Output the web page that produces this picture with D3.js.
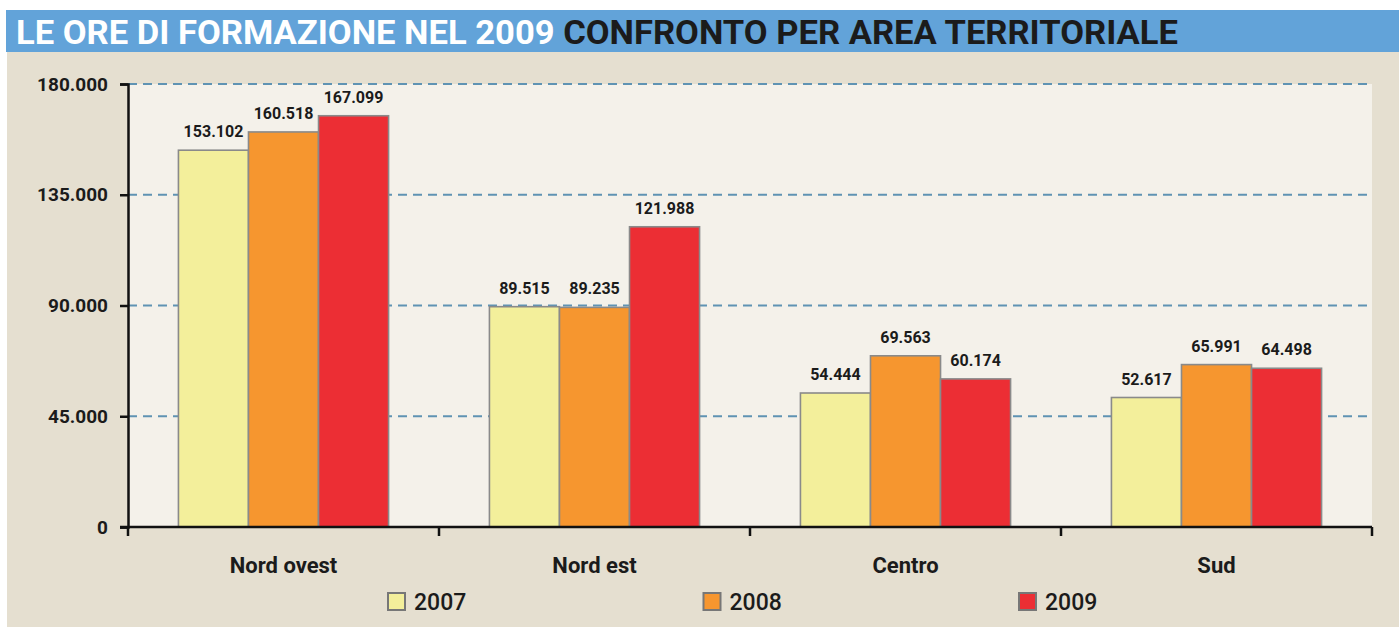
<!DOCTYPE html>
<html>
<head>
<meta charset="utf-8">
<script src="https://cdn.jsdelivr.net/npm/d3@7"></script>
<style>
  body { margin: 0; background: #fff; }
  svg { display: block; font-family: Roboto, "DejaVu Sans", sans-serif; }
</style>
</head>
<body>
<div id="chart"></div>
<script>
// dati
const aree = ["Nord ovest", "Nord est", "Centro", "Sud"];
const anni = ["2007", "2008", "2009"];
const ore2007 = [153102, 89515, 54444, 52617];
const ore2008 = [160518, 89235, 69563, 65991];
const ore2009 = [167099, 121988, 60174, 64498];
const tickValori = [0, 45000, 90000, 135000, 180000];
const colori = ["#f3ef9b", "#f6962f", "#ec2e34"];

const W = 1399, H = 627;
const margin = { top: 84, right: 27, bottom: 100, left: 128 };

const fmt = d3.formatLocale({ decimal: ",", thousands: ".", grouping: [3], currency: ["€", ""] }).format(",d");

const serie = [ore2007, ore2008, ore2009];
const rows = aree.map((a, i) => ({ area: a, valori: anni.map((y, j) => ({ anno: y, v: serie[j][i] })) }));

const svg = d3.select("#chart").append("svg")
  .attr("width", W)
  .attr("height", H);

// sfondo pannello e barra titolo
svg.append("rect").attr("x", 7).attr("y", 52).attr("width", W - 7).attr("height", H - 52).attr("fill", "#e5dfd0");
svg.append("rect").attr("x", 6).attr("y", 10).attr("width", W - 6).attr("height", 42).attr("fill", "#62a3d9");

const title = svg.append("text")
  .attr("x", 16)
  .attr("y", 44)
  .attr("font-size", 33)
  .attr("font-weight", "bold");
title.append("tspan").attr("fill", "#fff").text("LE ORE DI FORMAZIONE NEL 2009 ");
title.append("tspan").attr("fill", "#1b1b1b").text("CONFRONTO PER AREA TERRITORIALE");
title.attr("textLength", 1162).attr("lengthAdjust", "spacingAndGlyphs");

const x0 = d3.scaleBand().domain(aree).range([margin.left, W - margin.right]).paddingInner(0).paddingOuter(0);
const x1 = d3.scaleBand().domain(anni).range([0, x0.bandwidth()]).paddingInner(0).paddingOuter(0.72);
const y = d3.scaleLinear().domain([0, 180000]).range([H - margin.bottom, margin.top]);

// area del grafico
svg.append("rect")
  .attr("x", margin.left)
  .attr("y", margin.top)
  .attr("width", W - margin.right - margin.left)
  .attr("height", y(0) - margin.top)
  .attr("fill", "#f4f1ea");

// griglia tratteggiata
svg.append("g")
  .selectAll("line")
  .data(tickValori.filter(d => d > 0))
  .join("line")
  .attr("x1", margin.left)
  .attr("x2", W - margin.right)
  .attr("y1", d => y(d))
  .attr("y2", d => y(d))
  .attr("stroke", "#5f93b3")
  .attr("stroke-width", 2)
  .attr("stroke-dasharray", "9,6");

// barre
const gruppi = svg.append("g")
  .selectAll("g")
  .data(rows)
  .join("g")
  .attr("transform", d => `translate(${x0(d.area)},0)`);

gruppi.selectAll("rect")
  .data(d => d.valori)
  .join("rect")
  .attr("x", d => x1(d.anno))
  .attr("y", d => y(d.v))
  .attr("width", x1.bandwidth())
  .attr("height", d => y(0) - y(d.v))
  .attr("fill", (d, i) => colori[i])
  .attr("stroke", "#8a8a8a")
  .attr("stroke-width", 1.6);

gruppi.selectAll("text")
  .data(d => d.valori)
  .join("text")
  .attr("x", d => x1(d.anno) + x1.bandwidth() / 2)
  .attr("y", d => y(d.v) - 13)
  .attr("text-anchor", "middle")
  .attr("font-size", 16)
  .attr("font-weight", "bold")
  .attr("fill", "#1b1b1b")
  .text(d => fmt(d.v));

// asse y
const yAxis = svg.append("g")
  .attr("transform", `translate(${margin.left},0)`)
  .call(d3.axisLeft(y).tickValues(tickValori).tickSize(8).tickPadding(12).tickFormat(d => fmt(d)));
yAxis.select(".domain").attr("stroke", "#111").attr("stroke-width", 2.5);
yAxis.selectAll(".tick line").attr("stroke", "#111").attr("stroke-width", 2.5);
yAxis.selectAll(".tick text")
  .attr("font-size", 19)
  .attr("font-weight", "bold")
  .attr("fill", "#1b1b1b")
  .attr("font-family", "Roboto, sans-serif");

// asse x
const xAxis = svg.append("g")
  .attr("transform", `translate(0,${y(0)})`);
xAxis.append("line")
  .attr("x1", margin.left - 8)
  .attr("x2", W - margin.right)
  .attr("stroke", "#111")
  .attr("stroke-width", 2.5);
xAxis.selectAll(".sep")
  .data(aree.map(a => x0(a)).concat([x0.range()[1]]))
  .join("line")
  .attr("class", "sep")
  .attr("x1", d => d)
  .attr("x2", d => d)
  .attr("y1", 0)
  .attr("y2", 9)
  .attr("stroke", "#111")
  .attr("stroke-width", 2.5);
xAxis.selectAll(".lab")
  .data(aree)
  .join("text")
  .attr("class", "lab")
  .attr("x", d => x0(d) + x0.bandwidth() / 2)
  .attr("y", 46)
  .attr("text-anchor", "middle")
  .attr("font-size", 22)
  .attr("font-weight", "bold")
  .attr("fill", "#1b1b1b")
  .text(d => d);

// legenda
const xl = d3.scalePoint().domain(anni).range([388, 1019]);
const leg = svg.append("g")
  .selectAll("g")
  .data(anni)
  .join("g")
  .attr("transform", d => `translate(${xl(d)},593)`);
leg.append("rect")
  .attr("width", 17)
  .attr("height", 17)
  .attr("fill", (d, i) => colori[i])
  .attr("stroke", "#777")
  .attr("stroke-width", 2);
leg.append("text")
  .attr("x", 26)
  .attr("y", 17)
  .attr("font-size", 23)
  .attr("font-weight", 500)
  .attr("fill", "#1b1b1b")
  .text(d => d);
</script>
</body>
</html>
